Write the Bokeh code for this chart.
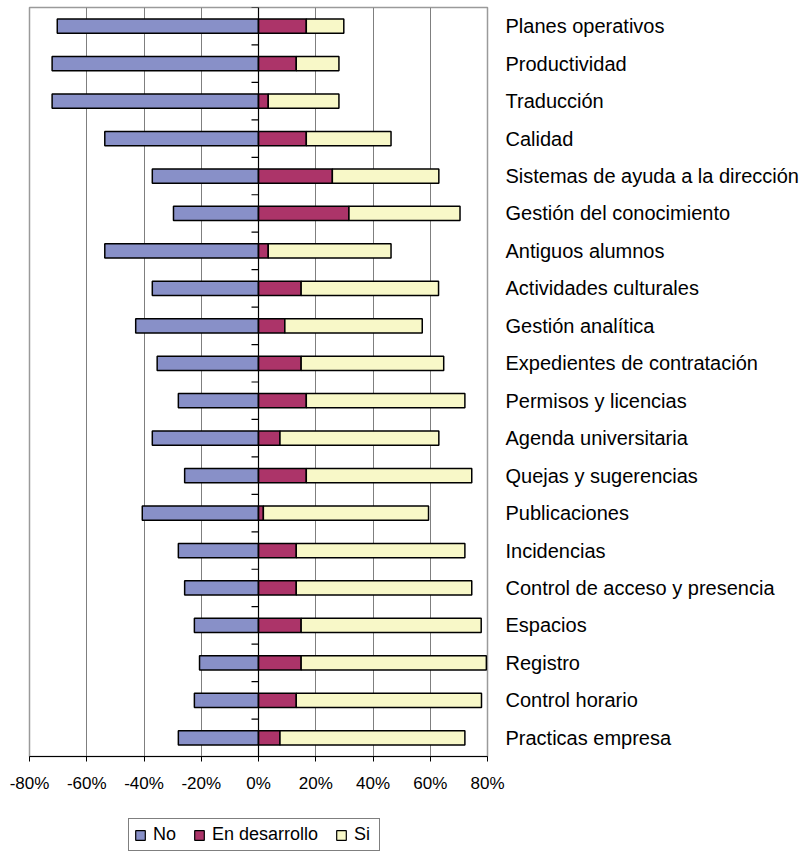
from bokeh.plotting import figure
from bokeh.layouts import column
from bokeh.models import (Range1d, LinearAxis, FixedTicker, PrintfTickFormatter,
                          Legend, LegendItem, Span, ColumnDataSource)
from bokeh.embed import file_html
from bokeh.resources import INLINE

categories = ["Planes operativos", "Productividad", "Traducción", "Calidad",
              "Sistemas de ayuda a la dirección", "Gestión del conocimiento",
              "Antiguos alumnos", "Actividades culturales", "Gestión analítica",
              "Expedientes de contratación", "Permisos y licencias",
              "Agenda universitaria", "Quejas y sugerencias", "Publicaciones",
              "Incidencias", "Control de acceso y presencia", "Espacios",
              "Registro", "Control horario", "Practicas empresa"]
no_vals = [70.3, 72.1, 72.1, 53.7, 37.1, 29.7, 53.7, 37.1, 42.9, 35.4,
           28.0, 37.1, 25.8, 40.6, 28.0, 25.8, 22.4, 20.6, 22.4, 28.0]
en_vals = [16.7, 13.2, 3.4, 16.7, 25.8, 31.6, 3.4, 14.9, 9.2, 14.9,
           16.7, 7.5, 16.7, 1.7, 13.2, 13.2, 14.9, 14.9, 13.2, 7.5]
si_vals = [13.1, 14.9, 24.7, 29.6, 37.2, 38.8, 42.9, 48.0, 48.0, 49.8,
           55.4, 55.5, 57.8, 57.7, 58.9, 61.3, 62.9, 64.7, 64.7, 64.6]
x_ticks = [-80, -60, -40, -20, 0, 20, 40, 60, 80]
series_names = ["No", "En desarrollo", "Si"]
series_colors = ["#8890C8", "#AC3469", "#F8F8C8"]

n = len(categories)
ypos = [n - 1 - i + 0.5 for i in range(n)]

FONT = "Liberation Sans"
W, H1, H2 = 806, 800, 51
ML, MR, MT, MB = 29, 319, 7, 44
frame_w = W - ML - MR
xmin, xmax = x_ticks[0], x_ticks[-1]
px_per_unit = frame_w / (xmax - xmin)

p = figure(width=W, height=H1, output_backend="svg", toolbar_location=None,
           x_range=Range1d(xmin, xmax), y_range=Range1d(0, n),
           min_border_left=ML, min_border_right=MR, min_border_top=MT,
           min_border_bottom=MB, y_axis_location=None)
p.background_fill_color = "white"
p.border_fill_color = "white"
p.outline_line_color = "#9a9a9a"
p.outline_line_width = 1.5

src = ColumnDataSource(dict(
    y=ypos,
    no_left=[-v for v in no_vals], zero=[0] * n,
    en_right=en_vals,
    si_right=[a + b for a, b in zip(en_vals, si_vals)],
))

p.xgrid.ticker = FixedTicker(ticks=x_ticks)
p.xgrid.grid_line_color = "#7f7f7f"
p.xgrid.grid_line_width = 1
p.ygrid.grid_line_color = None

h = 0.38
p.hbar(y="y", left="no_left", right="zero", height=h, source=src,
       fill_color=series_colors[0], line_color="black", line_width=1.5)
p.hbar(y="y", left="zero", right="en_right", height=h, source=src,
       fill_color=series_colors[1], line_color="black", line_width=1.5)
p.hbar(y="y", left="en_right", right="si_right", height=h, source=src,
       fill_color=series_colors[2], line_color="black", line_width=1.5)

# vertical axis line at 0 with tick marks between categories
p.add_layout(Span(location=0, dimension="height", line_color="black", line_width=1.2))
tick_len = 7 / px_per_unit
bounds = list(range(n + 1))
p.segment(x0=[0] * len(bounds), x1=[-tick_len] * len(bounds), y0=bounds, y1=bounds,
          line_color="black", line_width=1.2)

# x axis
xa = p.xaxis[0]
xa.ticker = FixedTicker(ticks=x_ticks)
xa.formatter = PrintfTickFormatter(format="%d%%")
xa.axis_line_color = "black"
xa.axis_line_width = 1.2
xa.major_tick_out = 5
xa.major_tick_in = 0
xa.major_tick_line_color = "black"
xa.minor_tick_line_color = None
xa.major_label_text_font = FONT
xa.major_label_text_font_size = "17px"
xa.major_label_text_color = "black"
xa.major_label_standoff = 12

# right category labels
ra = LinearAxis(ticker=FixedTicker(ticks=ypos),
                major_label_overrides={y: c for y, c in zip(ypos, categories)})
ra.axis_line_color = None
ra.major_tick_line_color = None
ra.minor_tick_line_color = None
ra.major_tick_out = 0
ra.major_tick_in = 0
ra.major_label_standoff = 18
ra.major_label_text_font = FONT
ra.major_label_text_font_size = "20px"
ra.major_label_text_color = "black"
p.add_layout(ra, "right")

# legend strip
pl = figure(width=W, height=H2, output_backend="svg", toolbar_location=None,
            x_range=Range1d(0, 1), y_range=Range1d(0, 1),
            x_axis_location=None, y_axis_location=None,
            min_border=0, outline_line_color=None)
pl.grid.grid_line_color = None
pl.background_fill_color = "white"
pl.border_fill_color = "white"
items = []
for name, col in zip(series_names, series_colors):
    proxy = ColumnDataSource(dict(y=[0.5], left=[0], right=[0]))
    r = pl.hbar(y="y", left="left", right="right", height=0.5, source=proxy,
                fill_color=col, line_color="black", line_width=1.2)
    r.visible = False
    items.append(LegendItem(label=name, renderers=[r]))

legend = Legend(items=items, orientation="horizontal", location=(99, 0))
legend.label_text_font = FONT
legend.label_text_font_size = "18px"
legend.label_text_color = "black"
legend.glyph_width = 12
legend.glyph_height = 12
legend.label_standoff = 7
legend.spacing = 17
legend.padding = 5
legend.margin = 0
legend.label_height = 15
legend.border_line_color = "black"
legend.border_line_width = 1
legend.background_fill_color = "white"
legend.background_fill_alpha = 1
legend.inactive_fill_alpha = 0
pl.add_layout(legend, "center")

layout = column(p, pl, spacing=0)
open("out.html", "w").write(file_html(layout, INLINE))
